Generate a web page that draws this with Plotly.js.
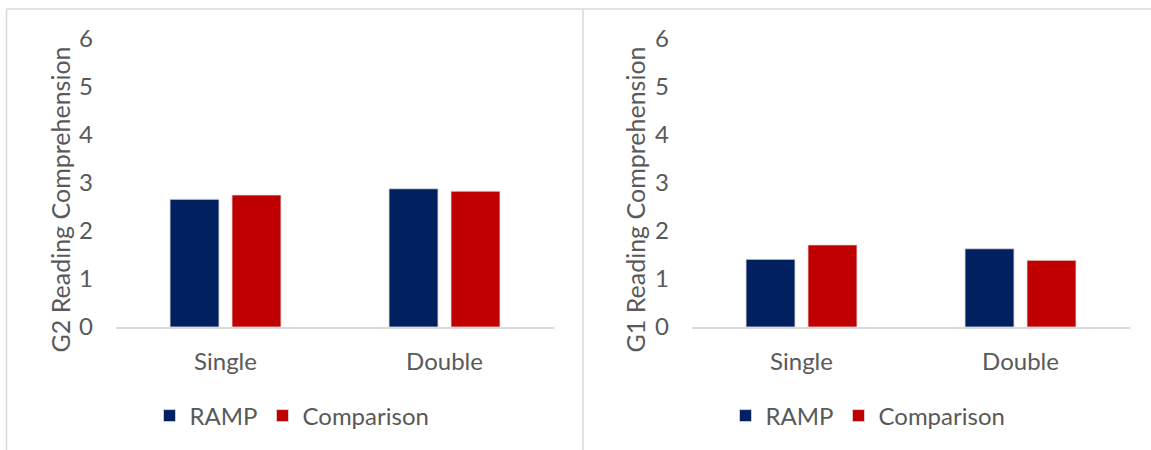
<!DOCTYPE html>
<html>
<head>
<meta charset="utf-8">
<script src="https://cdn.plot.ly/plotly-3.0.1.min.js"></script>
<style>
  html, body { margin: 0; padding: 0; background: #ffffff; }
  #chart { width: 1151px; height: 450px; }
</style>
</head>
<body>
<div id="chart"></div>
<script>
// ---- data ----
const categories = ['Single', 'Double'];
const seriesNames = ['RAMP', 'Comparison'];
const g2Ramp = [2.66, 2.88];
const g2Comparison = [2.75, 2.83];
const g1Ramp = [1.41, 1.63];
const g1Comparison = [1.71, 1.39];
const yTickValues = [0, 1, 2, 3, 4, 5, 6];
const yTitles = ['G2 Reading Comprehension', 'G1 Reading Comprehension'];

// ---- style ----
const NAVY = '#002060';
const RED = '#C00000';
const TEXT = '#595959';
const GRID = '#D9D9D9';
const FONT = 'Lato, "Open Sans", sans-serif';
const barLine = { color: 'rgba(220,220,220,0.8)', width: 1 };

const traces = [
  { type: 'bar', name: seriesNames[0], x: categories, y: g2Ramp, xaxis: 'x', yaxis: 'y',
    marker: { color: NAVY, line: barLine }, legend: 'legend', hoverinfo: 'y' },
  { type: 'bar', name: seriesNames[1], x: categories, y: g2Comparison, xaxis: 'x', yaxis: 'y',
    marker: { color: RED, line: barLine }, legend: 'legend', hoverinfo: 'y' },
  { type: 'bar', name: seriesNames[0], x: categories, y: g1Ramp, xaxis: 'x2', yaxis: 'y2',
    marker: { color: NAVY, line: barLine }, legend: 'legend2', hoverinfo: 'y' },
  { type: 'bar', name: seriesNames[1], x: categories, y: g1Comparison, xaxis: 'x2', yaxis: 'y2',
    marker: { color: RED, line: barLine }, legend: 'legend2', hoverinfo: 'y' }
];

const yDomain = [0.2733, 0.9133];

function xAxis(domain, anchor) {
  return {
    domain: domain, anchor: anchor, type: 'category',
    showline: true, linecolor: GRID, linewidth: 1.5,
    showgrid: false, zeroline: false, ticks: '',
    ticklabelstandoff: 13,
    tickfont: { family: FONT, size: 24, color: TEXT },
    fixedrange: true
  };
}
function yAxis(anchor) {
  return {
    domain: yDomain, anchor: anchor, range: [0, 6],
    tickvals: yTickValues, ticktext: yTickValues.map(String),
    showline: false, showgrid: false, zeroline: false, ticks: '',
    ticklabelstandoff: 22,
    tickfont: { family: FONT, size: 24, color: TEXT },
    fixedrange: true
  };
}
function legendAt(xc) {
  return {
    orientation: 'h', x: xc, xanchor: 'center', y: 0.0756, yanchor: 'middle',
    font: { family: FONT, size: 24, color: TEXT },
    bgcolor: 'rgba(0,0,0,0)', traceorder: 'normal'
  };
}

const layout = {
  width: 1151, height: 450,
  margin: { l: 0, r: 0, t: 0, b: 0 },
  paper_bgcolor: '#ffffff', plot_bgcolor: '#ffffff',
  barmode: 'group', bargap: 0.434, bargroupgap: 0.21,
  font: { family: FONT, color: TEXT },
  xaxis: xAxis([116 / 1151, 554 / 1151], 'y'),
  yaxis: yAxis('x'),
  xaxis2: xAxis([692 / 1151, 1130 / 1151], 'y2'),
  yaxis2: yAxis('x2'),
  legend: legendAt(292 / 1151),
  legend2: legendAt(868 / 1151),
  annotations: [
    { text: yTitles[0], xref: 'paper', yref: 'paper', x: 60 / 1151, y: 0.5567,
      xanchor: 'center', yanchor: 'middle', textangle: -90, showarrow: false,
      font: { family: FONT, size: 25, color: TEXT } },
    { text: yTitles[1], xref: 'paper', yref: 'paper', x: 635 / 1151, y: 0.5567,
      xanchor: 'center', yanchor: 'middle', textangle: -90, showarrow: false,
      font: { family: FONT, size: 25, color: TEXT } }
  ],
  shapes: [
    { type: 'line', xref: 'paper', yref: 'paper', x0: 6.5 / 1151, x1: 1, y0: 441 / 450, y1: 441 / 450,
      line: { color: GRID, width: 1.5 } },
    { type: 'line', xref: 'paper', yref: 'paper', x0: 6.5 / 1151, x1: 6.5 / 1151, y0: 0, y1: 441 / 450,
      line: { color: GRID, width: 1.5 } },
    { type: 'line', xref: 'paper', yref: 'paper', x0: 583 / 1151, x1: 583 / 1151, y0: 0, y1: 441 / 450,
      line: { color: GRID, width: 1.5 } }
  ],
  showlegend: true
};

Plotly.newPlot('chart', traces, layout, { displayModeBar: false, staticPlot: true });
</script>
</body>
</html>
